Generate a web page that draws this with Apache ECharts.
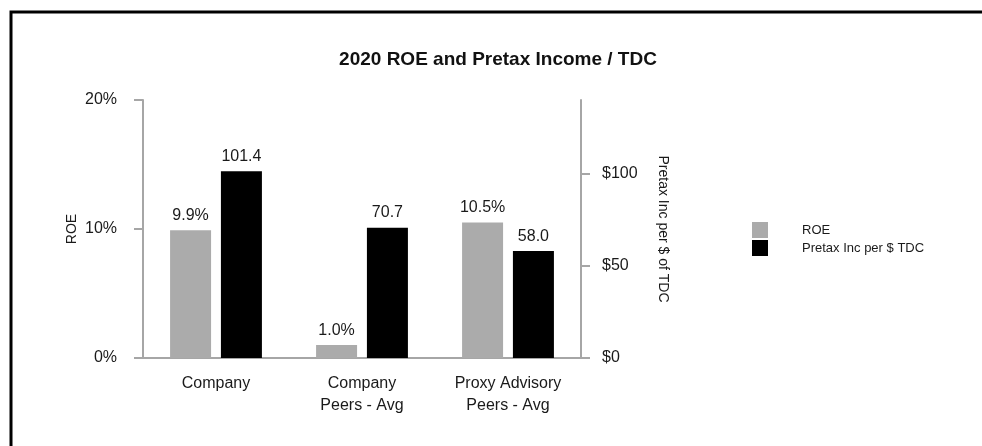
<!DOCTYPE html>
<html>
<head>
<meta charset="utf-8">
<script src="https://cdn.jsdelivr.net/npm/echarts@6/dist/echarts.min.js"></script>
<style>
  html, body { margin: 0; padding: 0; background: #fff; }
  #chart { width: 982px; height: 446px; }
</style>
</head>
<body>
<div id="chart"></div>
<script>
// chart data
var categories = ['Company', 'Company\nPeers - Avg', 'Proxy Advisory\nPeers - Avg']
var roeValues = [9.9, 1.0, 10.5]
var pretaxValues = [101.4, 70.7, 58.0]
var roeTicks = [0, 10, 20]
var pretaxTicks = [0, 50, 100]

var font = 'Arial, "Liberation Sans", sans-serif'
var axisGray = '#a6a6a6'
var textColor = '#1a1a1a'

var chart = echarts.init(document.getElementById('chart'))
chart.setOption({
  animation: false,
  textStyle: { fontFamily: font, color: textColor },
  title: {
    text: '2020 ROE and Pretax Income / TDC',
    left: 493,
    top: 45,
    textAlign: 'center',
    textStyle: {
      fontFamily: font,
      fontSize: 19,
      fontWeight: 'bold',
      color: '#111'
    }
  },
  graphic: [{
    type: 'rect',
    shape: { x: 11, y: 12, width: 2000, height: 2000 },
    style: { fill: 'none', stroke: '#000', lineWidth: 3 }
  }],
  legend: {
    orient: 'vertical',
    left: 747,
    top: 217,
    itemWidth: 16,
    itemHeight: 16,
    itemGap: 2,
    icon: 'rect',
    data: ['ROE', 'Pretax Inc per $ TDC'],
    textStyle: {
      fontFamily: font,
      fontSize: 13,
      color: textColor,
      padding: [0, 0, 0, 29]
    }
  },
  grid: {
    left: 143,
    right: 401,
    top: 100,
    bottom: 88
  },
  xAxis: {
    type: 'category',
    data: categories,
    axisLine: { lineStyle: { color: axisGray, width: 2 } },
    axisTick: { show: false },
    axisLabel: {
      margin: 15,
      fontSize: 16,
      lineHeight: 22,
      color: textColor
    }
  },
  yAxis: [{
    type: 'value',
    name: 'ROE',
    nameLocation: 'middle',
    nameGap: 64,
    nameTextStyle: { fontSize: 14, color: textColor },
    min: 0,
    max: 20,
    interval: 10,
    axisLine: { show: true, lineStyle: { color: axisGray, width: 2 } },
    axisTick: { show: true, length: 9, lineStyle: { color: axisGray, width: 2 } },
    axisLabel: {
      margin: 26,
      fontSize: 16,
      color: textColor,
      formatter: '{value}%'
    },
    splitLine: { show: false }
  }, {
    type: 'value',
    name: 'Pretax Inc per $ of TDC',
    nameLocation: 'middle',
    nameRotate: -90,
    nameGap: 75,
    nameTextStyle: { fontSize: 14, color: textColor },
    position: 'right',
    min: 0,
    max: 140,
    axisLine: { show: true, lineStyle: { color: axisGray, width: 2 } },
    axisTick: { show: true, length: 9, customValues: pretaxTicks, lineStyle: { color: axisGray, width: 2 } },
    axisLabel: {
      margin: 21,
      fontSize: 16,
      color: textColor,
      customValues: pretaxTicks,
      formatter: function (v) { return '$' + v }
    },
    splitLine: { show: false }
  }],
  series: [{
    name: 'ROE',
    type: 'bar',
    barWidth: 41,
    barGap: '24%',
    itemStyle: { color: '#ababab' },
    label: {
      show: true,
      position: 'top',
      distance: 7,
      fontSize: 16,
      color: textColor,
      formatter: function (p) { return p.value.toFixed(1) + '%' }
    },
    data: roeValues
  }, {
    name: 'Pretax Inc per $ TDC',
    type: 'bar',
    yAxisIndex: 1,
    barWidth: 41,
    itemStyle: { color: '#000' },
    label: {
      show: true,
      position: 'top',
      distance: 7,
      fontSize: 16,
      color: textColor,
      formatter: function (p) { return p.value.toFixed(1) }
    },
    data: pretaxValues
  }]
})
</script>
</body>
</html>
